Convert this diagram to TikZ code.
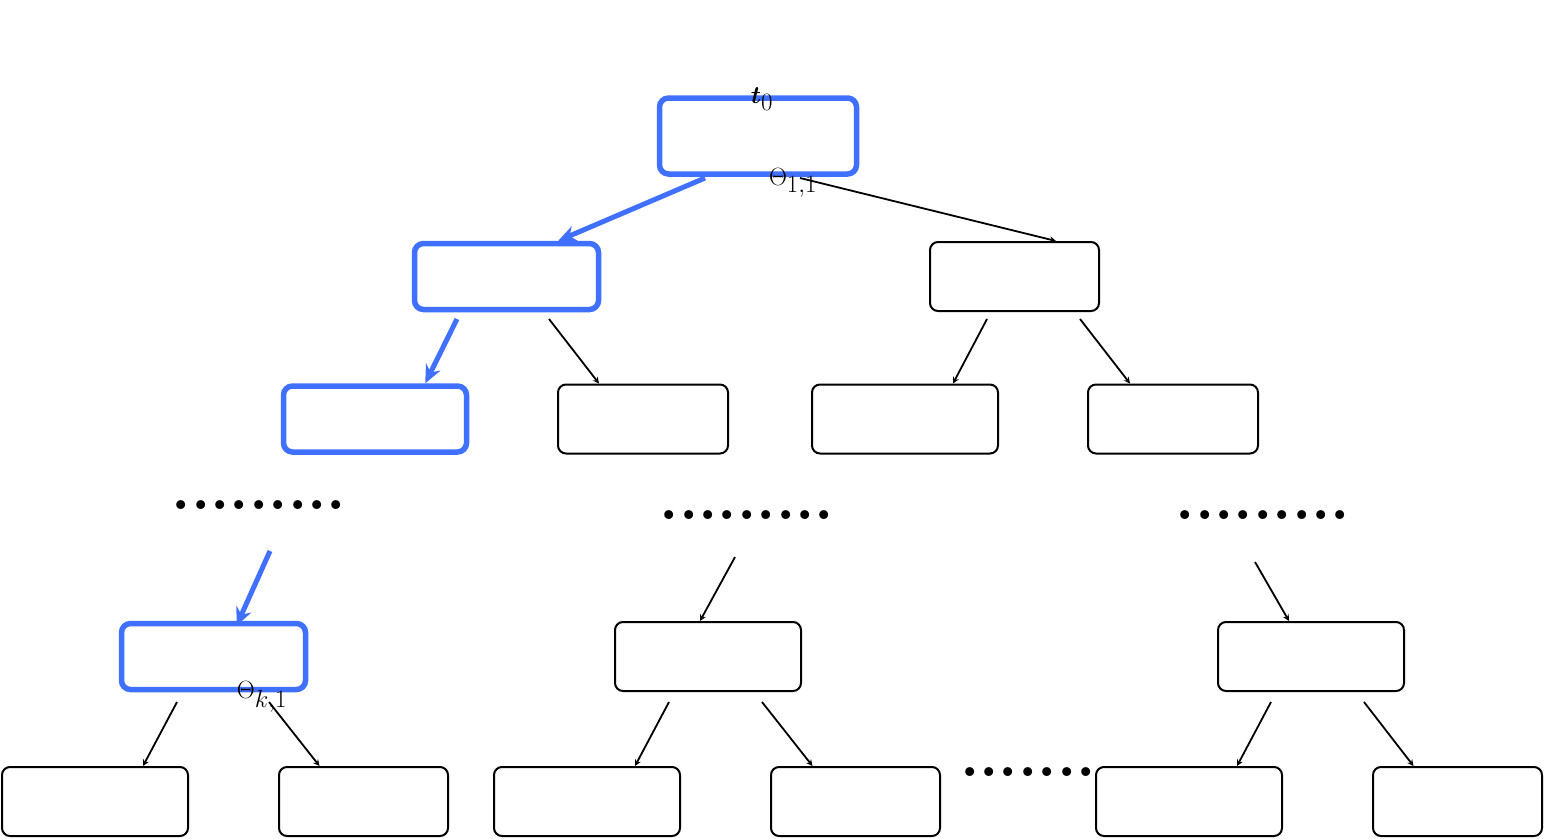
\documentclass[tikz,border=0pt]{standalone}
\usepackage{bm}
\usetikzlibrary{arrows.meta}
\begin{document}
\begin{tikzpicture}[x=1pt,y=-1pt,
 bx/.style={draw=black,line width=2pt,rounded corners=8pt,minimum width=#1,minimum height=69pt,inner sep=0pt},
 ar/.style={-stealth,line width=1.8pt},
 bar/.style={-{Stealth[length=18pt,width=16pt]},line width=5pt,draw=blueC},
 dts/.style={font=\fontsize{62}{62}\selectfont\bfseries,inner sep=0pt}]
\definecolor{blueC}{RGB}{64,112,255}
\tikzset{bbx/.style={draw=blueC,line width=5.5pt,rounded corners=9pt,minimum width=#1,minimum height=75pt,inner sep=0pt}}
\useasboundingbox (0,0) rectangle (1544,838);
\node[bbx=197pt,minimum height=76pt] (r) at (758,136) {};
\node[bbx=184pt,minimum height=66pt] (l1) at (506.5,276.5) {};
\node[bx=169pt] (r1) at (1014.5,276.5) {};
\node[bbx=183pt,minimum height=66pt] (a) at (375,419) {};
\node[bx=170pt] (b) at (643,419) {};
\node[bx=186pt] (c) at (905,419) {};
\node[bx=170pt] (d) at (1173,419) {};
\node[dts] (d1) at (259,505) {.........};
\node[dts] (d2) at (747,515) {.........};
\node[dts] (d3) at (1263,515) {.........};
\node[bbx=184pt,minimum height=66pt] (e) at (213.5,656.5) {};
\node[bx=186pt] (f) at (708,656.5) {};
\node[bx=186pt] (g) at (1311,656.5) {};
\node[bx=186pt] (h1) at (95,801.5) {};
\node[bx=169pt] (h2) at (363.5,801.5) {};
\node[bx=186pt] (h3) at (587,801.5) {};
\node[bx=169pt] (h4) at (855.5,801.5) {};
\node[dts] (d4) at (1028,772) {.......};
\node[bx=186pt] (h5) at (1189,801.5) {};
\node[bx=169pt] (h6) at (1457.5,801.5) {};
\coordinate (s1) at (705,178); \coordinate (s2) at (457,319); \coordinate (s3) at (270,551);
\draw[bar] (s1) -- ([xshift=-43pt]l1.north east);
\draw[bar] (s2) -- ([xshift=-44pt]a.north east);
\draw[bar] (s3) -- ([xshift=23pt,yshift=-5pt]e.north);
\coordinate (k1) at (800,178); \draw[ar] (k1) -- ([xshift=-44pt]r1.north east);
\coordinate (k2) at (549,319); \draw[ar] (k2) -- ([xshift=-44pt]b.north);
\coordinate (k3) at (987,319); \draw[ar] (k3) -- ([xshift=48pt]c.north);
\coordinate (k4) at (1080,319); \draw[ar] (k4) -- ([xshift=-43pt]d.north);
\coordinate (k5) at (735,557); \draw[ar] (k5) -- ([xshift=-8pt]f.north);
\coordinate (k6) at (1255,562); \draw[ar] (k6) -- ([xshift=-22pt]g.north);
\coordinate (k7) at (177,702); \draw[ar] (k7) -- ([xshift=48pt]h1.north);
\coordinate (k8) at (269,702); \draw[ar] (k8) -- ([xshift=-44pt]h2.north);
\coordinate (k9) at (669,702); \draw[ar] (k9) -- ([xshift=48pt]h3.north);
\coordinate (k10) at (762,702); \draw[ar] (k10) -- ([xshift=-43pt]h4.north);
\coordinate (k11) at (1271,702); \draw[ar] (k11) -- ([xshift=48pt]h5.north);
\coordinate (k12) at (1364,702); \draw[ar] (k12) -- ([xshift=-44pt]h6.north);
\node[font=\fontsize{66}{66}\selectfont,inner sep=0pt] (t0) at (762,99) {$\bm{t}_0$};
\node[font=\fontsize{86}{86}\selectfont,inner sep=0pt] (th1) at (793,183) {$\Theta_{1,1}$};
\node[font=\fontsize{86}{86}\selectfont,inner sep=0pt] (th2) at (262,697) {$\Theta_{k,1}$};
\end{tikzpicture}
\end{document}
